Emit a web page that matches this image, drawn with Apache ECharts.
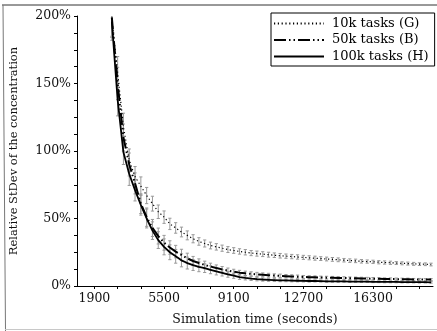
<!DOCTYPE html>
<html>
<head>
<meta charset="utf-8">
<script src="https://cdn.jsdelivr.net/npm/echarts@6/dist/echarts.min.js"></script>
<style>
  html, body { margin: 0; padding: 0; background: #fff; }
  #chart { width: 437px; height: 331px; }
</style>
</head>
<body>
<div id="chart"></div>
<script>
// simulation time (s), one sample every 300 s
const times = [
  2800, 3100, 3400, 3700, 4000, 4300, 4600, 4900, 5200, 5500,
  5800, 6100, 6400, 6700, 7000, 7300, 7600, 7900, 8200, 8500,
  8800, 9100, 9400, 9700, 10000, 10300, 10600, 10900, 11200, 11500,
  11800, 12100, 12400, 12700, 13000, 13300, 13600, 13900, 14200, 14500,
  14800, 15100, 15400, 15700, 16000, 16300, 16600, 16900, 17200, 17500,
  17800, 18100, 18400, 18700, 19000, 19300
];

// relative stdev (%)
const tasks10k = [
  198, 158, 118, 93, 81, 74, 67, 61, 55, 51,
  46, 43, 40, 37.5, 35, 33, 31.5, 30, 29, 28,
  27, 26.3, 25.6, 25, 24.4, 24, 23.6, 23.2, 22.8, 22.4,
  22.1, 21.8, 21.5, 21.2, 20.9, 20.6, 20.3, 20, 19.7, 19.4,
  19.1, 18.8, 18.6, 18.3, 18.1, 17.9, 17.6, 17.4, 17.2, 17,
  16.8, 16.6, 16.4, 16.2, 16.1, 15.9
];
const tasks50k = [
  199, 150, 110, 90, 76, 61, 51, 43, 37, 32,
  28.5, 25.5, 23, 20.5, 18.5, 17, 15.6, 14.4, 13.3, 12.3,
  11.4, 10.6, 9.9, 9.4, 9, 8.6, 8.3, 8, 7.7, 7.5,
  7.3, 7.1, 6.9, 6.7, 6.5, 6.4, 6.3, 6.2, 6.1, 6,
  5.9, 5.8, 5.7, 5.6, 5.5, 5.4, 5.3, 5.2, 5.2, 5.1,
  5, 5, 4.9, 4.9, 4.8, 4.8
];
const tasks100k = [
  196, 138, 99, 83, 71, 60, 50, 41, 34, 29,
  25, 22, 19, 17, 15.5, 14.2, 13.2, 12, 10.8, 9.7,
  8.6, 7.6, 6.6, 6, 5.5, 5.1, 4.8, 4.6, 4.4, 4.2,
  4.1, 4, 3.9, 3.8, 3.7, 3.7, 3.6, 3.5, 3.5, 3.4,
  3.4, 3.3, 3.3, 3.2, 3.2, 3.1, 3.1, 3, 3, 3,
  2.9, 2.9, 2.9, 2.8, 2.8, 2.7
];

// half-length of the error bars (%)
const err10k = [
  14, 12, 10, 8.5, 7.5, 6.8, 6, 5.5, 5, 4.6,
  4.2, 3.9, 3.6, 3.3, 3, 2.8, 2.6, 2.5, 2.4, 2.3,
  2.2, 2.1, 2, 2, 1.9, 1.9, 1.8, 1.8, 1.7, 1.7,
  1.6, 1.6, 1.6, 1.5, 1.5, 1.5, 1.4, 1.4, 1.4, 1.4,
  1.3, 1.3, 1.3, 1.3, 1.2, 1.2, 1.2, 1.2, 1.2, 1.1,
  1.1, 1.1, 1.1, 1, 1, 1
];
const err50k = [
  14, 12, 10, 8.5, 7.8, 7.3, 6.8, 6.3, 5.9, 5.5,
  5, 4.6, 4.2, 3.8, 3.4, 3.1, 2.8, 2.5, 2.3, 2.1,
  1.9, 1.8, 1.7, 1.6, 1.5, 1.5, 1.4, 1.4, 1.3, 1.3,
  1.2, 1.2, 1.2, 1.1, 1.1, 1.1, 1, 1, 1, 1,
  1, 0.9, 0.9, 0.9, 0.9, 0.9, 0.8, 0.8, 0.8, 0.8,
  0.8, 0.8, 0.7, 0.7, 0.7, 0.7
];
const err100k = [
  14, 12, 9, 8.5, 8, 7.5, 7, 6.5, 6.2, 5.9,
  5.5, 5.1, 4.8, 4.4, 4, 3.6, 3.2, 2.9, 2.6, 2.3,
  2.1, 1.9, 1.7, 1.5, 1.4, 1.3, 1.2, 1.1, 1, 1,
  0.9, 0.9, 0.8, 0.8, 0.8, 0.7, 0.7, 0.7, 0.7, 0.7,
  0.7, 0.6, 0.6, 0.6, 0.6, 0.6, 0.6, 0.6, 0.6, 0.6,
  0.6, 0.6, 0.6, 0.6, 0.6, 0.6
];

const xLabels = [1900, 5500, 9100, 12700, 16300];
const xTicks = [1900, 3100, 4300, 5500, 6700, 7900, 9100, 10300, 11500, 12700, 13900, 15100, 16300, 17500, 18700];
const yLabels = [0, 50, 100, 150, 200];
const yTicks = [0, 12.5, 25, 37.5, 50, 62.5, 75, 87.5, 100, 112.5, 125, 137.5, 150, 162.5, 175, 187.5, 200];

const FONT = "DejaVu Serif";

const pairs = (vals) => times.map((t, i) => [t, vals[i]]);
const bars = (vals, errs) => times.map((t, i) => [t, vals[i] - errs[i], vals[i] + errs[i]]);

function errorBar(params, api) {
  const x = api.value(0);
  const lo = api.coord([x, api.value(1)]);
  const hi = api.coord([x, api.value(2)]);
  const cap = 1.6;
  const style = { stroke: "#999", lineWidth: 1 };
  return {
    type: "group",
    children: [
      { type: "line", shape: { x1: lo[0], y1: lo[1], x2: hi[0], y2: hi[1] }, style },
      { type: "line", shape: { x1: lo[0] - cap, y1: lo[1], x2: lo[0] + cap, y2: lo[1] }, style },
      { type: "line", shape: { x1: hi[0] - cap, y1: hi[1], x2: hi[0] + cap, y2: hi[1] }, style },
    ],
  };
}

const chart = echarts.init(document.getElementById("chart"));

chart.setOption({
  animation: false,
  backgroundColor: "#fff",
  grid: { left: 77, right: 4, top: 16, bottom: 41, containLabel: false },
  legend: {
    orient: "vertical",
    left: 271,
    top: 13,
    padding: [4, 6, 3, 2],
    itemGap: 3.5,
    itemWidth: 50,
    itemHeight: 14,
    borderColor: "#000",
    borderWidth: 1,
    borderRadius: 0,
    backgroundColor: "#fff",
    itemStyle: { color: "rgba(0,0,0,0)", borderWidth: 0, opacity: 0 },
    textStyle: { fontFamily: FONT, fontSize: 13, color: "#000", padding: [0, 0, 0, 3] },
    data: ["10k tasks (G)", "50k tasks (B)", "100k tasks (H)"],
  },
  xAxis: {
    type: "value",
    min: 1000,
    max: 19400,
    name: "Simulation time (seconds)",
    nameLocation: "middle",
    nameGap: 27,
    nameTextStyle: { fontFamily: FONT, fontSize: 12.5, color: "#111" },
    axisLine: { lineStyle: { color: "#000", width: 1 } },
    axisTick: { customValues: xTicks, length: 3, lineStyle: { color: "#000" } },
    axisLabel: {
      customValues: xLabels,
      fontFamily: FONT,
      fontSize: 12.5,
      color: "#111",
      margin: 6,
      formatter: (v) => String(v),
    },
    splitLine: { show: false },
  },
  yAxis: {
    type: "value",
    min: 0,
    max: 200,
    name: "Relative StDev of the concentration",
    nameLocation: "middle",
    nameGap: 57,
    nameTextStyle: { fontFamily: FONT, fontSize: 11.5, color: "#111" },
    axisLine: { show: true, lineStyle: { color: "#000", width: 1 } },
    axisTick: { customValues: yTicks, length: 3, lineStyle: { color: "#000" } },
    axisLabel: {
      customValues: yLabels,
      fontFamily: FONT,
      fontSize: 12.5,
      color: "#111",
      margin: 6,
      formatter: (v) => v + "%",
    },
    splitLine: { show: false },
  },
  graphic: [
    { type: "line", silent: true, shape: { x1: 2, y1: 5, x2: 437, y2: 5 }, style: { stroke: "#333", lineWidth: 1 } },
    { type: "line", silent: true, shape: { x1: 3, y1: 5, x2: 5.5, y2: 331 }, style: { stroke: "#777", lineWidth: 1 } },
    { type: "line", silent: true, shape: { x1: 5, y1: 329.5, x2: 437, y2: 329.5 }, style: { stroke: "#c8c8c8", lineWidth: 1 } },
  ],
  series: [
    { type: "custom", renderItem: errorBar, clip: true, data: bars(tasks10k, err10k), z: 1, silent: true },
    { type: "custom", renderItem: errorBar, clip: true, data: bars(tasks50k, err50k), z: 1, silent: true },
    { type: "custom", renderItem: errorBar, clip: true, data: bars(tasks100k, err100k), z: 1, silent: true },
    {
      type: "line",
      name: "10k tasks (G)",
      data: pairs(tasks10k),
      symbol: "none",
      z: 3,
      lineStyle: { color: "#000", width: 1.2, type: [1.2, 2.6] },
      itemStyle: { color: "#000" },
    },
    {
      type: "line",
      name: "50k tasks (B)",
      data: pairs(tasks50k),
      symbol: "none",
      z: 3,
      lineStyle: { color: "#000", width: 2, type: [12, 3, 1.5, 3, 1.5, 3] },
      itemStyle: { color: "#000" },
    },
    {
      type: "line",
      name: "100k tasks (H)",
      data: pairs(tasks100k),
      symbol: "none",
      z: 3,
      lineStyle: { color: "#000", width: 1.8 },
      itemStyle: { color: "#000" },
    },
  ],
});
</script>
</body>
</html>
